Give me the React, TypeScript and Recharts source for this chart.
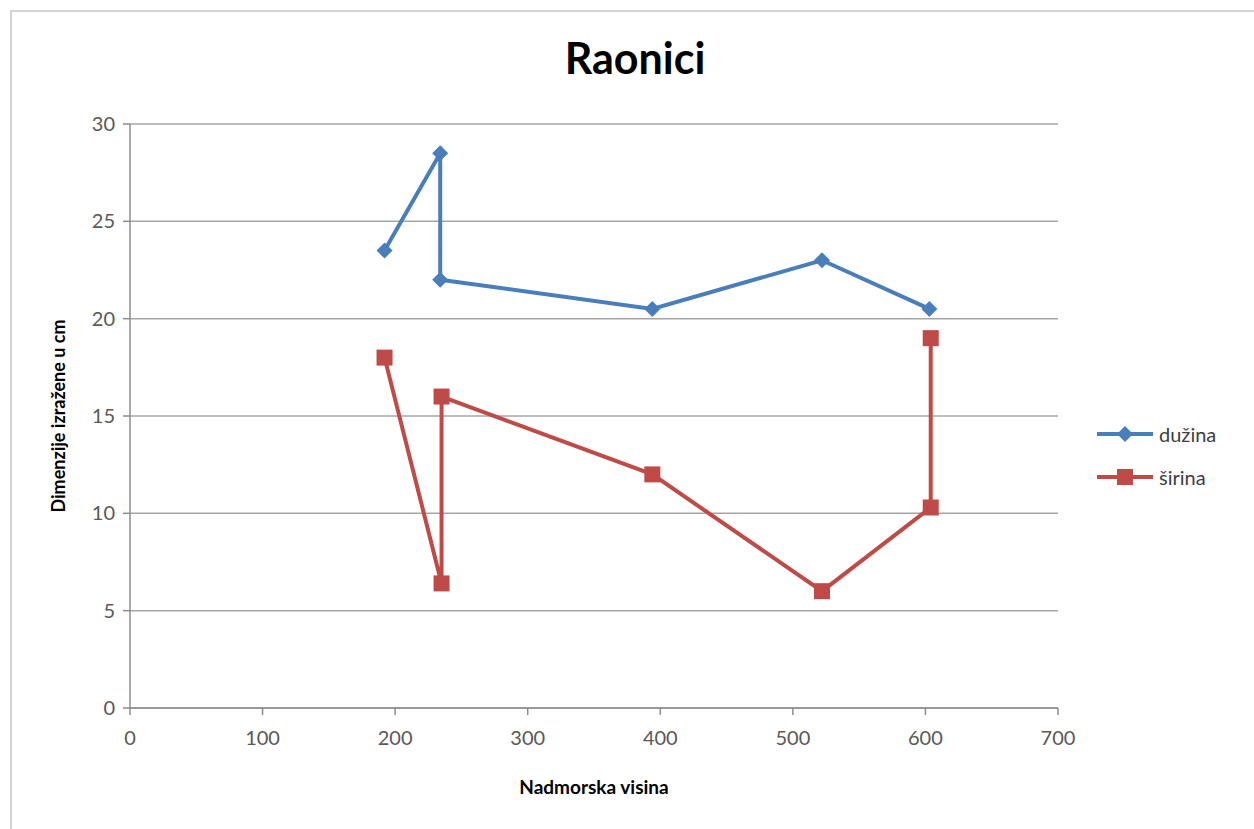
import React from "react";
import {
  LineChart, Line, XAxis, YAxis, CartesianGrid,
} from "recharts";

// dužina (length) points, in drawing order
const duzinaX = [192, 234, 234, 394, 522, 603];
const duzinaY = [23.5, 28.5, 22, 20.5, 23, 20.5];

// širina (width) points, in drawing order
const sirinaX = [192, 235, 235, 394, 522, 604, 604];
const sirinaY = [18, 6.4, 16, 12, 6, 10.3, 19];

const xTicks = [0, 100, 200, 300, 400, 500, 600, 700];
const yTicks = [0, 5, 10, 15, 20, 25, 30];

const BLUE = "#4A7EBB";
const RED = "#BE4B48";
const FONT = "Lato, 'Open Sans', sans-serif";

const duzina = duzinaX.map((x, i) => ({ x, y: duzinaY[i] }));
const sirina = sirinaX.map((x, i) => ({ x, y: sirinaY[i] }));

const Diamond = (props: any) => {
  const { cx, cy } = props;
  if (cx == null || cy == null) return null;
  const r = 8;
  return (
    <path
      d={`M${cx},${cy - r} L${cx + r},${cy} L${cx},${cy + r} L${cx - r},${cy} Z`}
      fill={BLUE}
    />
  );
};

const Square = (props: any) => {
  const { cx, cy } = props;
  if (cx == null || cy == null) return null;
  const r = 8;
  return <rect x={cx - r} y={cy - r} width={2 * r} height={2 * r} fill={RED} />;
};

const legendItems = [
  { name: "dužina", color: BLUE, shape: "diamond" },
  { name: "širina", color: RED, shape: "square" },
];

const LegendBox = () => (
  <div style={{ position: "absolute", left: 1097, top: 412, fontFamily: FONT, fontSize: 20, color: "#404040" }}>
    {legendItems.map((it) => (
      <div key={it.name} style={{ display: "flex", alignItems: "center", height: 43 }}>
        <svg width={58} height={20}>
          <line x1={0} y1={10} x2={56} y2={10} stroke={it.color} strokeWidth={4} />
          {it.shape === "diamond" ? (
            <path d="M28,2 L36,10 L28,18 L20,10 Z" fill={it.color} />
          ) : (
            <rect x={20} y={2} width={16} height={16} fill={it.color} />
          )}
        </svg>
        <span style={{ marginLeft: 4 }}>{it.name}</span>
      </div>
    ))}
  </div>
);

export default function App() {
  return (
    <div style={{ position: "absolute", left: 0, top: 0, width: 1254, height: 829, background: "#fff", overflow: "hidden" }}>
      <div
        style={{
          position: "absolute", left: 10, top: 10, width: 1260, height: 840,
          border: "2px solid #d4d4d4", boxSizing: "border-box",
        }}
      />
      <div
        style={{
          position: "absolute", left: 0, top: 32, width: 1270, textAlign: "center",
          fontFamily: FONT, fontWeight: 700, fontSize: 43, color: "#000",
        }}
      >
        Raonici
      </div>
      <div style={{ position: "absolute", left: 0, top: 0 }}>
        <LineChart
          width={1254}
          height={829}
          margin={{ top: 124, right: 196, bottom: 71, left: 60 }}
        >
          <CartesianGrid horizontal vertical={false} stroke="#a6a6a6" strokeWidth={1.5} />
          <XAxis
            type="number"
            dataKey="x"
            domain={[0, 700]}
            ticks={xTicks}
            interval={0}
            stroke="#8c8c8c"
            strokeWidth={1.5}
            tickSize={7}
            height={50}
            tick={{ fill: "#595959", fontSize: 20, fontFamily: FONT, dy: 14 }}
            label={{
              value: "Nadmorska visina", position: "insideBottom", offset: -36,
              style: { fontFamily: FONT, fontWeight: 700, fontSize: 19, fill: "#000" },
            }}
          />
          <YAxis
            type="number"
            domain={[0, 30]}
            ticks={yTicks}
            interval={0}
            width={70}
            stroke="#8c8c8c"
            strokeWidth={1.5}
            tickSize={7}
            tick={{ fill: "#595959", fontSize: 20, fontFamily: FONT, dx: -6 }}
            label={{
              value: "Dimenzije izražene u cm", angle: -90, position: "insideLeft", offset: -1,
              style: { fontFamily: FONT, fontWeight: 700, fontSize: 18, fill: "#000", textAnchor: "middle" },
            }}
          />
          <Line
            data={duzina}
            dataKey="y"
            name="dužina"
            stroke={BLUE}
            strokeWidth={4}
            dot={<Diamond />}
            activeDot={false}
            isAnimationActive={false}
            type="linear"
          />
          <Line
            data={sirina}
            dataKey="y"
            name="širina"
            stroke={RED}
            strokeWidth={4}
            dot={<Square />}
            activeDot={false}
            isAnimationActive={false}
            type="linear"
          />
        </LineChart>
      </div>
      <LegendBox />
    </div>
  );
}
